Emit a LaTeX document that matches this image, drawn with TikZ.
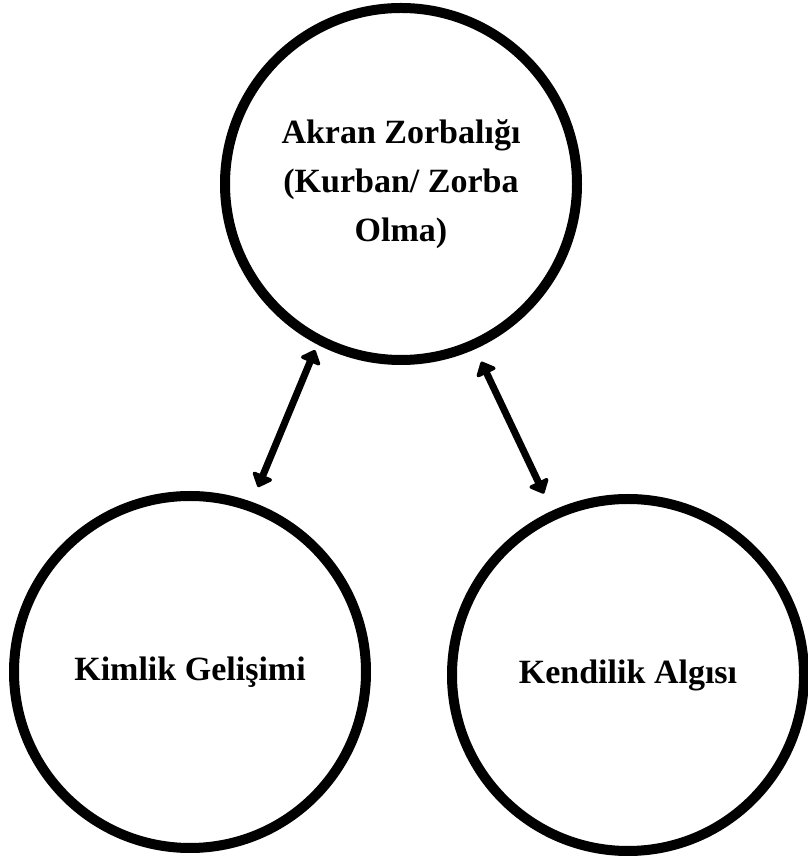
\documentclass[tikz,border=0pt]{standalone}
\usepackage{fontspec}
\setmainfont{Liberation Serif}
\usetikzlibrary{arrows.meta}
\begin{document}
\begin{tikzpicture}[x=1pt, y=1pt, every text node part/.style={align=center},
        bubble/.style={draw=black, circle, line width=10pt, minimum size=352pt, font=\fontsize{34}{49}\selectfont\bfseries},
        bothway/.style={{Triangle[round, length=14pt, width=24pt]}-{Triangle[round, length=14pt, width=24pt]}, line width=7pt}]
        \useasboundingbox (0, 0) rectangle (808, 859);

        \node(Akran) at (401, 675)[bubble]{Akran Zorbalığı\\(Kurban/ Zorba\\Olma)};
        \node(Kimlik) at (190, 187)[bubble]{Kimlik Gelişimi};
        \node(Kendilik) at (628, 184)[bubble]{Kendilik Algısı};

        \path (Akran.center) ++(242.6:187) coordinate(AkranSol);
        \path (Akran.center) ++(-65.7:195) coordinate(AkranSag);
        \path (Kimlik.center) ++(69.8:197) coordinate(KimlikUst);
        \path (Kendilik.center) ++(114.9:200) coordinate(KendilikUst);

        \draw[bothway](AkranSol) -- (KimlikUst);
        \draw[bothway](AkranSag) -- (KendilikUst);

    \end{tikzpicture}
\end{document}
